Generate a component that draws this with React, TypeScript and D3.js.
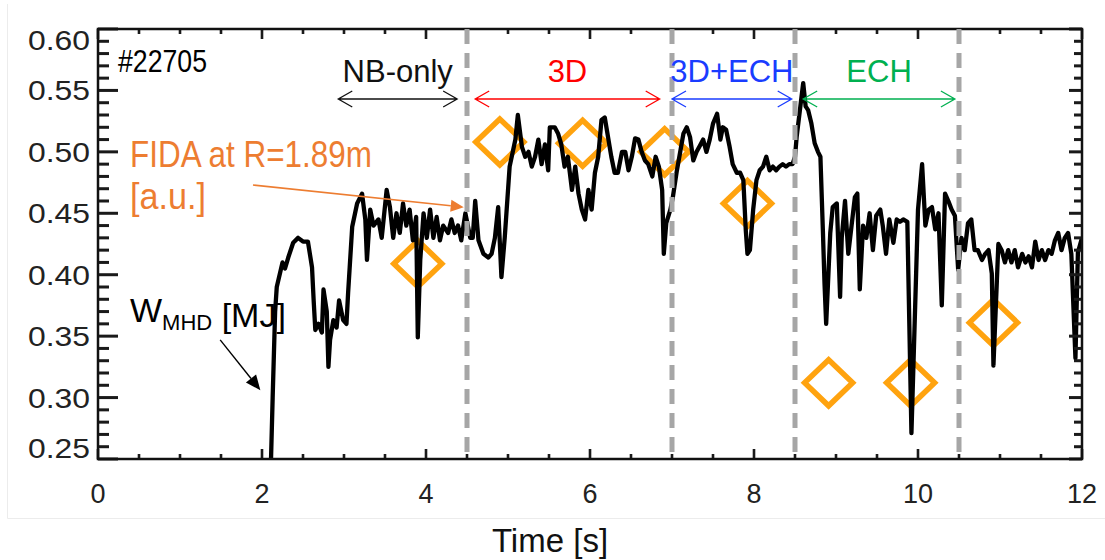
import * as d3 from 'd3';
import { useEffect, useRef } from 'react';

// axis ticks
const xTicks = [0, 2, 4, 6, 8, 10, 12];
const yTicks = [0.25, 0.3, 0.35, 0.4, 0.45, 0.5, 0.55, 0.6];

// heating phases (boundaries + arrow spans, in seconds)
const phaseNames = ['NB-only', '3D', '3D+ECH', 'ECH'];
const phaseStart = [2.93, 4.6, 7.0, 8.6];
const phaseEnd = [4.38, 6.85, 8.46, 10.45];
const boundaries = [4.5, 7.0, 8.5, 10.5];

// FIDA at R=1.89m [a.u.]
const fidaTime = [3.9, 4.9, 5.91, 6.91, 7.92, 8.91, 9.91, 10.92];
const fidaValue = [0.409, 0.508, 0.507, 0.5, 0.458, 0.312, 0.312, 0.361];

// W_MHD [MJ] trace: [time, value]
const wmhd: [number, number][] = [
  [2.09, 0.2], [2.13, 0.3], [2.16, 0.37], [2.18, 0.39], [2.25, 0.41], [2.28, 0.405],
  [2.32, 0.414], [2.38, 0.426], [2.44, 0.43], [2.5, 0.427], [2.56, 0.427], [2.61, 0.406],
  [2.63, 0.379], [2.65, 0.355], [2.69, 0.36], [2.73, 0.353], [2.75, 0.388], [2.79, 0.37],
  [2.81, 0.325], [2.83, 0.347], [2.87, 0.363], [2.91, 0.357], [2.94, 0.379], [2.99, 0.363],
  [3.03, 0.36], [3.05, 0.385], [3.1, 0.439], [3.16, 0.458], [3.22, 0.466], [3.26, 0.445],
  [3.28, 0.412], [3.32, 0.453], [3.36, 0.44], [3.42, 0.445], [3.46, 0.43], [3.52, 0.469],
  [3.56, 0.455], [3.6, 0.43], [3.64, 0.45], [3.68, 0.434], [3.72, 0.458], [3.76, 0.44],
  [3.8, 0.453], [3.84, 0.428], [3.88, 0.447], [3.9, 0.349], [3.93, 0.412], [3.97, 0.45],
  [4.01, 0.43], [4.05, 0.453], [4.09, 0.43], [4.13, 0.447], [4.17, 0.428], [4.21, 0.44],
  [4.27, 0.434], [4.31, 0.445], [4.35, 0.434], [4.39, 0.44], [4.43, 0.428], [4.48, 0.45],
  [4.54, 0.43], [4.57, 0.43], [4.6, 0.46], [4.64, 0.428], [4.7, 0.417], [4.76, 0.414],
  [4.8, 0.417], [4.84, 0.43], [4.88, 0.455], [4.92, 0.398], [4.96, 0.43], [5.02, 0.488],
  [5.09, 0.51], [5.12, 0.53], [5.17, 0.504], [5.21, 0.496], [5.25, 0.5], [5.29, 0.488],
  [5.33, 0.496], [5.37, 0.51], [5.41, 0.49], [5.45, 0.506], [5.49, 0.485], [5.51, 0.52],
  [5.57, 0.52], [5.61, 0.515], [5.65, 0.506], [5.69, 0.488], [5.73, 0.496], [5.78, 0.469],
  [5.82, 0.488], [5.86, 0.466], [5.9, 0.453], [5.94, 0.445], [5.98, 0.469], [6.02, 0.453],
  [6.06, 0.483], [6.1, 0.496], [6.14, 0.526], [6.18, 0.528], [6.22, 0.512], [6.26, 0.496],
  [6.3, 0.483], [6.34, 0.483], [6.39, 0.5], [6.43, 0.5], [6.47, 0.485], [6.51, 0.496],
  [6.55, 0.511], [6.59, 0.51], [6.63, 0.5], [6.67, 0.493], [6.71, 0.49], [6.76, 0.48],
  [6.8, 0.496], [6.84, 0.488], [6.88, 0.469], [6.9, 0.417], [6.93, 0.442], [6.98, 0.453],
  [7.01, 0.463], [7.06, 0.485], [7.1, 0.5], [7.14, 0.515], [7.18, 0.52], [7.22, 0.512],
  [7.26, 0.493], [7.3, 0.5], [7.34, 0.505], [7.38, 0.51], [7.42, 0.5], [7.46, 0.51],
  [7.5, 0.523], [7.55, 0.531], [7.59, 0.51], [7.62, 0.52], [7.66, 0.518], [7.7, 0.505],
  [7.74, 0.49], [7.79, 0.483], [7.83, 0.483], [7.87, 0.477], [7.9, 0.436], [7.92, 0.417],
  [7.95, 0.42], [7.99, 0.453], [8.03, 0.477], [8.07, 0.485], [8.11, 0.488], [8.15, 0.496],
  [8.19, 0.485], [8.23, 0.488], [8.27, 0.485], [8.31, 0.488], [8.35, 0.49], [8.39, 0.488],
  [8.43, 0.49], [8.47, 0.49], [8.5, 0.496], [8.52, 0.512], [8.56, 0.534], [8.6, 0.556],
  [8.63, 0.537], [8.66, 0.534], [8.7, 0.523], [8.74, 0.507], [8.78, 0.5], [8.81, 0.496],
  [8.84, 0.436], [8.86, 0.393], [8.88, 0.36], [8.93, 0.434], [8.96, 0.455], [9.01, 0.458],
  [9.05, 0.382], [9.07, 0.43], [9.11, 0.46], [9.15, 0.417], [9.19, 0.44], [9.23, 0.463],
  [9.26, 0.466], [9.29, 0.388], [9.33, 0.44], [9.37, 0.43], [9.41, 0.45], [9.45, 0.42],
  [9.49, 0.448], [9.54, 0.453], [9.57, 0.44], [9.61, 0.417], [9.65, 0.445], [9.7, 0.426],
  [9.74, 0.445], [9.78, 0.443], [9.82, 0.445], [9.87, 0.443], [9.92, 0.271], [10.0, 0.453],
  [10.05, 0.49], [10.09, 0.44], [10.13, 0.453], [10.17, 0.455], [10.21, 0.437], [10.25, 0.45],
  [10.29, 0.375], [10.33, 0.466], [10.37, 0.46], [10.41, 0.453], [10.45, 0.448], [10.49, 0.404],
  [10.53, 0.43], [10.57, 0.42], [10.61, 0.442], [10.65, 0.445], [10.69, 0.42], [10.73, 0.42],
  [10.78, 0.412], [10.82, 0.417], [10.86, 0.42], [10.9, 0.401], [10.92, 0.326], [10.98, 0.425],
  [11.02, 0.42], [11.06, 0.41], [11.1, 0.42], [11.14, 0.41], [11.18, 0.42], [11.22, 0.406],
  [11.27, 0.417], [11.31, 0.41], [11.35, 0.415], [11.39, 0.406], [11.43, 0.427], [11.47, 0.412],
  [11.51, 0.42], [11.55, 0.412], [11.59, 0.42], [11.63, 0.417], [11.67, 0.428], [11.71, 0.434],
  [11.75, 0.42], [11.79, 0.43], [11.83, 0.434], [11.87, 0.417], [11.92, 0.332], [11.95, 0.418],
  [12.0, 0.43]
];

const phaseColors = ['#111111', '#ff0000', '#1a3cff', '#00b050'];
const FONT = '"Liberation Sans", Arial, Helvetica, sans-serif';
const ORANGE = '#ed7d31';
const DIAMOND = '#ffa30f';

const x = d3.scaleLinear().domain([0, 12]).range([98, 1082]);
const y = d3.scaleLinear().domain([0.25, 0.6]).range([459, 29]);
const X0 = 98, X1 = 1082, Y0 = 459, Y1 = 29;

// minor/major tick positions for the box axes
const yTickMarks = d3.range(25, 61).map(k => ({ v: k / 100, major: k % 5 === 0 }));
const xTickMarks = d3.range(0, 25).map(k => ({ t: k / 2, major: k % 4 === 0 }));

function App() {
  const ref = useRef<SVGGElement>(null);

  useEffect(() => {
    const g = d3.select(ref.current);
    g.selectAll('*').remove();

    g.append('defs').append('clipPath').attr('id', 'plot-clip')
      .append('rect')
      .attr('x', X0).attr('y', Y1)
      .attr('width', X1 - X0).attr('height', Y0 - Y1);

    // FIDA diamonds
    const dx = 24, dy = 23;
    g.append('g').selectAll('path')
      .data(fidaTime.map((t, i) => [t, fidaValue[i]]))
      .enter()
      .append('path')
      .attr('d', d => {
        const cx = x(d[0]), cy = y(d[1]);
        return `M${cx - dx},${cy} L${cx},${cy - dy} L${cx + dx},${cy} L${cx},${cy + dy} Z`;
      })
      .attr('fill', 'none')
      .attr('stroke', DIAMOND)
      .attr('stroke-width', 5.5);

    // W_MHD trace
    const line = d3.line<[number, number]>()
      .x(d => x(d[0]))
      .y(d => y(d[1]));
    g.append('path')
      .datum(wmhd)
      .attr('clip-path', 'url(#plot-clip)')
      .attr('d', line)
      .attr('fill', 'none')
      .attr('stroke', '#000')
      .attr('stroke-width', 4.3)
      .attr('stroke-linejoin', 'round');
  }, []);

  const arrowY = 99;

  const pointer = (t1: number, v1: number, t2: number, v2: number, color: string, w: number, len: number, half: number) => {
    const px1 = x(t1), py1 = y(v1), px2 = x(t2), py2 = y(v2);
    const ang = Math.atan2(py2 - py1, px2 - px1);
    const bx = px2 - len * Math.cos(ang), by = py2 - len * Math.sin(ang);
    const nx = -Math.sin(ang) * half, ny = Math.cos(ang) * half;
    return (
      <g>
        <line x1={px1} y1={py1} x2={bx} y2={by} stroke={color} strokeWidth={w} />
        <path d={`M${px2},${py2} L${bx + nx},${by + ny} L${bx - nx},${by - ny} Z`} fill={color} />
      </g>
    );
  };

  return (
    <svg
      width={1105}
      height={560}
      style={{ position: 'absolute', left: 0, top: 0, background: '#fff' }}
      fontFamily={FONT}
    >
      <path d="M7.5,4 V518.5 H1105" fill="none" stroke="#ececec" strokeWidth={1} />

      <g ref={ref} />

      {/* inward ticks as filled bars */}
      <g fill="#1a1a1a">
        {yTickMarks.map(d => (
          <g key={'y' + d.v}>
            <rect x={X0} y={y(d.v) - 1.5} width={d.major ? 20 : 11} height={3} />
            <rect x={X1 - (d.major ? 13 : 8)} y={y(d.v) - 1.5} width={d.major ? 13 : 8} height={3} />
          </g>
        ))}
        {xTickMarks.map(d => (
          <g key={'x' + d.t}>
            <rect x={x(d.t) - 1.3} y={Y0 - (d.major ? 10 : 5)} width={2.6} height={d.major ? 10 : 5} />
            <rect x={x(d.t) - 1.3} y={Y1} width={2.6} height={d.major ? 10 : 5} />
          </g>
        ))}
      </g>
      <rect x={X0} y={Y1} width={X1 - X0} height={Y0 - Y1} fill="none" stroke="#111" strokeWidth={2.5} />

      {/* phase boundaries */}
      {boundaries.map(b => (
        <line key={b} x1={x(b)} x2={x(b)} y1={Y1} y2={Y0} stroke="#a6a6a6" strokeWidth={5} strokeDasharray="15 9" />
      ))}

      {/* tick labels */}
      {yTicks.map(v => (
        <text key={v} x={28} y={Math.min(Math.max(y(v), 40), 448) + 10} textLength={62}
          lengthAdjust="spacingAndGlyphs" fontSize={28} fill="#222">{v.toFixed(2)}</text>
      ))}
      {xTicks.map(t => (
        <text key={t} x={x(t)} y={503} textAnchor="middle" fontSize={27} fill="#222">{t}</text>
      ))}
      <text x={550} y={552} textAnchor="middle" fontSize={33} fill="#111">Time [s]</text>

      <text x={118} y={72} textLength={89} lengthAdjust="spacingAndGlyphs" fontSize={32} fill="#000">#22705</text>

      {/* phase labels with double arrows */}
      {phaseNames.map((name, i) => {
        const a = x(phaseStart[i]), b = x(phaseEnd[i]);
        const c = phaseColors[i];
        return (
          <g key={name}>
            <text x={(a + b) / 2} y={82} textAnchor="middle" fontSize={31} fill={c}>{name}</text>
            <path
              d={`M${a},${arrowY} H${b} M${a + 14},${arrowY - 8} L${a},${arrowY} L${a + 14},${arrowY + 8} M${b - 14},${arrowY - 8} L${b},${arrowY} L${b - 14},${arrowY + 8}`}
              fill="none" stroke={c} strokeWidth={1.3}
            />
          </g>
        );
      })}

      {pointer(1.89, 0.473, 4.46, 0.455, ORANGE, 1.6, 13, 6)}
      {pointer(1.49, 0.347, 1.98, 0.306, '#000', 1.4, 15, 6.5)}

      <text x={130} y={167} textLength={242} lengthAdjust="spacingAndGlyphs" fontSize={36} fill={ORANGE}>FIDA at R=1.89m</text>
      <text x={130} y={209} textLength={76} lengthAdjust="spacingAndGlyphs" fontSize={36} fill={ORANGE}>[a.u.]</text>

      <text x={130} y={322} fontSize={34} fill="#000">
        <tspan>W</tspan>
        <tspan fontSize={22} dy={8}>MHD</tspan>
        <tspan dy={-3}> [MJ]</tspan>
      </text>
    </svg>
  );
}

export default App;
